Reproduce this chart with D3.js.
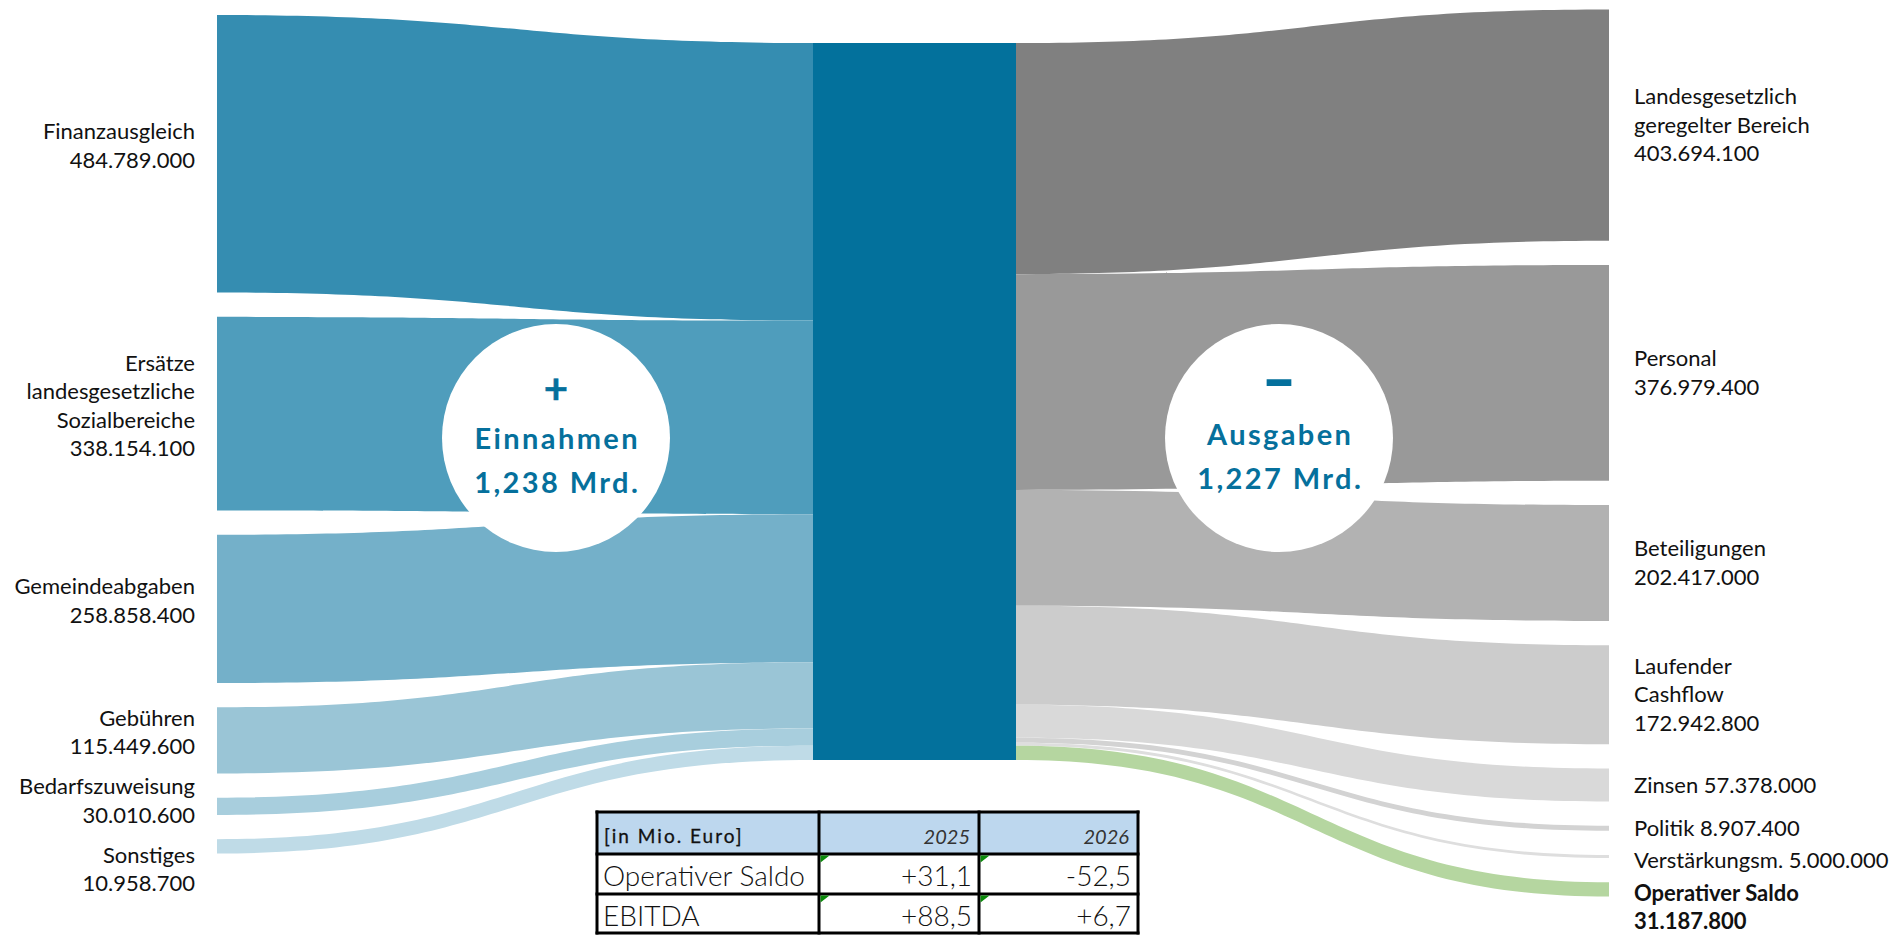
<!DOCTYPE html>
<html lang="de">
<head>
<meta charset="utf-8">
<title>Einnahmen und Ausgaben</title>
<script src="https://cdn.jsdelivr.net/npm/d3@7"></script>
<style>
  html, body { margin: 0; padding: 0; background: #fff; }
  svg { display: block; font-family: Lato, 'Open Sans', sans-serif; }
</style>
</head>
<body>
<svg id="chart"></svg>
<script>
// Einnahmen (links), Beträge in Euro, Bandbreiten in Mio. wie gezeichnet
const einnahmenNamen = [['Finanzausgleich'], ['Ersätze', 'landesgesetzliche', 'Sozialbereiche'], ['Gemeindeabgaben'], ['Gebühren'], ['Bedarfszuweisung'], ['Sonstiges']];
const einnahmenBetrag = [484789000, 338154100, 258858400, 115449600, 30010600, 10958700];
const einnahmenBand = [484.8, 338.2, 258.9, 115.4, 30.0, 25.0];
const einnahmenFarben = ['#358db1', '#4f9dbc', '#74b0c9', '#9ac5d6', '#a8cedd', '#bfdbe7'];

// Ausgaben (rechts)
const ausgabenNamen = [['Landesgesetzlich', 'geregelter Bereich'], ['Personal'], ['Beteiligungen'], ['Laufender', 'Cashflow'], ['Zinsen'], ['Politik'], ['Verstärkungsm.'], ['Operativer Saldo']];
const ausgabenBetrag = [403694100, 376979400, 202417000, 172942800, 57378000, 8907400, 5000000, 31187800];
const ausgabenBand = [403.7, 377.0, 202.4, 172.9, 57.4, 8.9, 5.0, 25.0];
const ausgabenFarben = ['#808080', '#999999', '#b2b2b2', '#cccccc', '#d9d9d9', '#d3d3d3', '#dedede', '#b5d6a0'];
const ausgabenEinzeilig = ['Zinsen', 'Politik', 'Verstärkungsm.'];

// Kennzahlen-Tabelle
const tabelleKopf = ['[in Mio. Euro]', '2025', '2026'];
const tabelleZeilen = ['Operativer Saldo', 'EBITDA'];
const werte2025 = [31.1, 88.5];
const werte2026 = [-52.5, 6.7];

const width = 1895;
const height = 935;
const blue = '#05709c';

const de = d3.formatLocale({ decimal: ',', thousands: '.', grouping: [3], currency: ['', ' €'], minus: '-' });
const fmtBetrag = de.format(',d');
const fmtMrd = de.format('.3f');
const fmtTabelle = de.format('+.1f');

const svg = d3.select('#chart')
  .attr('width', width)
  .attr('height', height);

const x = { left: 217, midL: 813, midR: 1016, right: 1609 };
const midTop = 43;
const midHeight = 717;
const gap = 24.3;
const lineH = 28.5;

const h = d3.scaleLinear()
  .domain([0, d3.sum(einnahmenBand)])
  .range([0, midHeight]);

function stack(values, top, space) {
  let y = top;
  return values.map(v => {
    const r = { y0: y, y1: y + h(v) };
    y = r.y1 + space;
    return r;
  });
}

const band = d3.area()
  .x(d => d.x)
  .y0(d => d.y0)
  .y1(d => d.y1)
  .curve(d3.curveBumpX);

const inLeft = stack(einnahmenBand, 15, gap);
const inMid = stack(einnahmenBand, midTop, 0);
const outMid = stack(ausgabenBand, midTop, 0);
const outRight = stack(ausgabenBand, 9.5, gap);

const links = svg.append('g');

links.selectAll('path.in')
  .data(einnahmenBand)
  .enter()
  .append('path')
  .attr('class', 'in')
  .attr('fill', (d, i) => einnahmenFarben[i])
  .attr('d', (d, i) => band([
    { x: x.left, y0: inLeft[i].y0, y1: inLeft[i].y1 },
    { x: x.midL, y0: inMid[i].y0, y1: inMid[i].y1 }
  ]));

links.selectAll('path.out')
  .data(ausgabenBand)
  .enter()
  .append('path')
  .attr('class', 'out')
  .attr('fill', (d, i) => ausgabenFarben[i])
  .attr('d', (d, i) => band([
    { x: x.midR, y0: outMid[i].y0, y1: outMid[i].y1 },
    { x: x.right, y0: outRight[i].y0, y1: outRight[i].y1 }
  ]));

svg.append('rect')
  .attr('x', x.midL)
  .attr('y', midTop)
  .attr('width', x.midR - x.midL)
  .attr('height', midHeight)
  .attr('fill', '#03719c');

// Kreise mit Summen
const summeEin = d3.sum(einnahmenBetrag);
const summeAus = d3.sum(ausgabenBetrag.slice(0, -1));
const kreise = [
  { cx: 556, cy: 438, sign: '+', size: 42, stroke: 0.5, dy: [-34, 11, 55] },
  { cx: 1279, cy: 438, sign: '–', size: 56, stroke: 2, dy: [-39, 7, 51] }
];
kreise[0].titel = 'Einnahmen';
kreise[0].wert = summeEin;
kreise[1].titel = 'Ausgaben';
kreise[1].wert = summeAus;

const kg = svg.selectAll('g.kreis')
  .data(kreise)
  .enter()
  .append('g')
  .attr('class', 'kreis')
  .attr('transform', d => `translate(${d.cx},${d.cy})`);

kg.append('circle')
  .attr('r', 114)
  .attr('fill', '#fff');

kg.append('text')
  .attr('y', d => d.dy[0])
  .attr('text-anchor', 'middle')
  .attr('fill', blue)
  .attr('stroke', blue)
  .attr('stroke-width', d => d.stroke)
  .style('font-size', d => d.size + 'px')
  .style('font-weight', 700)
  .text(d => d.sign);

kg.append('text')
  .attr('x', 1.2)
  .attr('y', d => d.dy[1])
  .attr('text-anchor', 'middle')
  .attr('fill', blue)
  .style('font-size', '29px')
  .style('font-weight', 700)
  .style('letter-spacing', '2.4px')
  .text(d => d.titel);

kg.append('text')
  .attr('x', 1.2)
  .attr('y', d => d.dy[2])
  .attr('text-anchor', 'middle')
  .attr('fill', blue)
  .style('font-size', '29px')
  .style('font-weight', 700)
  .style('letter-spacing', '2.4px')
  .text(d => fmtMrd(d.wert / 1e9) + ' Mrd.');

// Beschriftungen: zentriert am Band, nach unten geschoben falls sie sich überlappen
function placeLabels(zeilen, ends, offset, minGap) {
  let last = -Infinity;
  return zeilen.map((lines, i) => {
    const c = (ends[i].y0 + ends[i].y1) / 2;
    let first = c - (lines.length - 1) * lineH / 2 + offset;
    if (first < last + minGap) first = last + minGap;
    last = first + (lines.length - 1) * lineH;
    return { lines, first };
  });
}

const linksZeilen = einnahmenNamen.map((n, i) => n.concat(fmtBetrag(einnahmenBetrag[i])));
const rechtsZeilen = ausgabenNamen.map((n, i) => ausgabenEinzeilig.includes(n[0])
  ? [n[0] + ' ' + fmtBetrag(ausgabenBetrag[i])]
  : n.concat(fmtBetrag(ausgabenBetrag[i])));

const labelsL = placeLabels(linksZeilen, inLeft, -8, 40);
const labelsR = placeLabels(rechtsZeilen, outRight, 0, 32.5);

function drawLabels(data, xPos, anchor, cls) {
  const t = svg.selectAll('text.' + cls)
    .data(data)
    .enter()
    .append('text')
    .attr('class', cls)
    .attr('text-anchor', anchor)
    .attr('fill', '#111')
    .style('font-size', '22px')
    .style('font-weight', (d, i) => cls === 'lr' && i === data.length - 1 ? 700 : 400);
  t.selectAll('tspan')
    .data(d => d.lines.map((l, j) => ({ l, y: d.first + j * lineH })))
    .enter()
    .append('tspan')
    .attr('x', xPos)
    .attr('y', d => d.y)
    .attr('dy', '0.35em')
    .text(d => d.l);
}

drawLabels(labelsL, 195, 'end', 'll');
drawLabels(labelsR, 1634, 'start', 'lr');

// Tabelle
const colX = [597, 819, 979, 1138];
const rowY = [812, 854, 894, 933];
const tab = svg.append('g');

tab.append('rect')
  .attr('x', colX[0])
  .attr('y', rowY[0])
  .attr('width', colX[3] - colX[0])
  .attr('height', rowY[1] - rowY[0])
  .attr('fill', '#bdd7ee');

tab.selectAll('line.v')
  .data(colX)
  .enter()
  .append('line')
  .attr('x1', d => d).attr('x2', d => d)
  .attr('y1', rowY[0] - 1.5).attr('y2', rowY[3] + 1.5)
  .attr('stroke', '#000').attr('stroke-width', 3);

tab.selectAll('line.h')
  .data(rowY)
  .enter()
  .append('line')
  .attr('y1', d => d).attr('y2', d => d)
  .attr('x1', colX[0] - 1.5).attr('x2', colX[3] + 1.5)
  .attr('stroke', '#000').attr('stroke-width', 3);

tab.append('text')
  .attr('x', colX[0] + 7)
  .attr('y', rowY[0] + 31)
  .attr('fill', '#111')
  .attr('stroke', '#111')
  .attr('stroke-width', 0.3)
  .style('font-size', '19px')
  .style('letter-spacing', '2px')
  .text(tabelleKopf[0]);

tab.selectAll('text.jahr')
  .data(tabelleKopf.slice(1))
  .enter()
  .append('text')
  .attr('class', 'jahr')
  .attr('x', (d, i) => colX[i + 2] - 9)
  .attr('y', rowY[0] + 32)
  .attr('text-anchor', 'end')
  .attr('fill', '#333')
  .style('font-size', '20px')
  .style('font-style', 'italic')
  .text(d => d);

const zeilen = tabelleZeilen.map((name, i) => ({ name, werte: [werte2025[i], werte2026[i]], y: rowY[i + 1] }));

const zg = tab.selectAll('g.zeile')
  .data(zeilen)
  .enter()
  .append('g')
  .attr('class', 'zeile');

zg.append('text')
  .attr('x', colX[0] + 6)
  .attr('y', d => d.y + 32)
  .attr('fill', '#111')
  .style('font-size', '28px')
  .style('font-weight', 300)
  .text(d => d.name);

zg.selectAll('text.wert')
  .data(d => d.werte.map((w, j) => ({ w, j, y: d.y })))
  .enter()
  .append('text')
  .attr('class', 'wert')
  .attr('x', d => colX[d.j + 2] - 7)
  .attr('y', d => d.y + 32)
  .attr('text-anchor', 'end')
  .attr('fill', '#111')
  .style('font-size', '28px')
  .style('font-weight', 300)
  .text(d => fmtTabelle(d.w));

// grüne Eckmarken wie in Excel
zg.selectAll('path.marke')
  .data(d => d.werte.map((w, j) => ({ j, y: d.y })))
  .enter()
  .append('path')
  .attr('class', 'marke')
  .attr('fill', '#0a8a0a')
  .attr('d', d => `M${colX[d.j + 1] + 1.5},${d.y + 1.5}h9l-9,7z`);
</script>
</body>
</html>
